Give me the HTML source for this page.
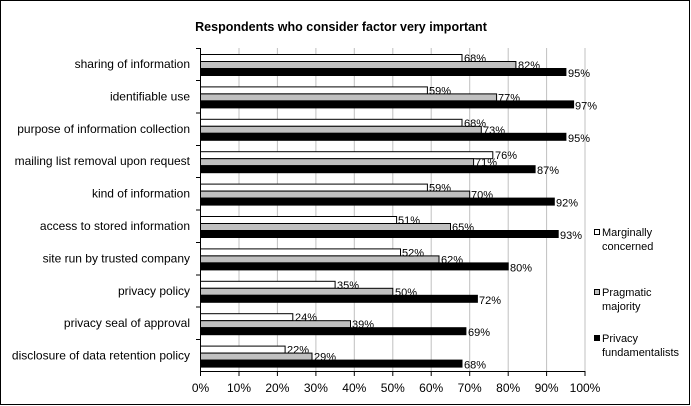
<!DOCTYPE html>
<html><head><meta charset="utf-8"><style>
html,body{margin:0;padding:0;background:#fff}
svg{display:block;font-family:"Liberation Sans",Arial,sans-serif}
</style></head><body>
<svg width="691" height="406" viewBox="0 0 691 406" xmlns="http://www.w3.org/2000/svg">
<rect x="0.5" y="0.5" width="689" height="404" fill="#fff" stroke="#000"/>
<text x="341" y="31" font-size="12.5" font-weight="bold" text-anchor="middle">Respondents who consider factor very important</text>
<g stroke="#c0c0c0" stroke-width="1">
<line x1="239" y1="48" x2="239" y2="372"/><line x1="277.4" y1="48" x2="277.4" y2="372"/><line x1="315.9" y1="48" x2="315.9" y2="372"/><line x1="354.3" y1="48" x2="354.3" y2="372"/><line x1="392.8" y1="48" x2="392.8" y2="372"/><line x1="431.2" y1="48" x2="431.2" y2="372"/><line x1="469.7" y1="48" x2="469.7" y2="372"/><line x1="508.2" y1="48" x2="508.2" y2="372"/><line x1="546.6" y1="48" x2="546.6" y2="372"/><line x1="585" y1="48" x2="585" y2="372"/>
</g>
<g stroke="#000" stroke-width="1">
<line x1="200.5" y1="48" x2="200.5" y2="372"/><line x1="200" y1="371.5" x2="585.5" y2="371.5"/>
<line x1="196" y1="48.5" x2="200" y2="48.5"/><line x1="196" y1="80.5" x2="200" y2="80.5"/><line x1="196" y1="113" x2="200" y2="113"/><line x1="196" y1="145.5" x2="200" y2="145.5"/><line x1="196" y1="177.5" x2="200" y2="177.5"/><line x1="196" y1="210" x2="200" y2="210"/><line x1="196" y1="242.5" x2="200" y2="242.5"/><line x1="196" y1="275" x2="200" y2="275"/><line x1="196" y1="307" x2="200" y2="307"/><line x1="196" y1="339.5" x2="200" y2="339.5"/>
<line x1="200.5" y1="372" x2="200.5" y2="376"/><line x1="239" y1="372" x2="239" y2="376"/><line x1="277.4" y1="372" x2="277.4" y2="376"/><line x1="315.9" y1="372" x2="315.9" y2="376"/><line x1="354.3" y1="372" x2="354.3" y2="376"/><line x1="392.8" y1="372" x2="392.8" y2="376"/><line x1="431.2" y1="372" x2="431.2" y2="376"/><line x1="469.7" y1="372" x2="469.7" y2="376"/><line x1="508.2" y1="372" x2="508.2" y2="376"/><line x1="546.6" y1="372" x2="546.6" y2="376"/><line x1="585" y1="372" x2="585" y2="376"/>
</g>
<g font-size="12" text-anchor="middle">
<text x="200.5" y="392">0%</text><text x="239" y="392">10%</text><text x="277.4" y="392">20%</text><text x="315.9" y="392">30%</text><text x="354.3" y="392">40%</text><text x="392.8" y="392">50%</text><text x="431.2" y="392">60%</text><text x="469.7" y="392">70%</text><text x="508.2" y="392">80%</text><text x="546.6" y="392">90%</text><text x="585" y="392">100%</text>
</g>
<g font-size="12" text-anchor="end">
<text x="190" y="68">sharing of information</text>
<text x="190" y="100.4">identifiable use</text>
<text x="190" y="132.8">purpose of information collection</text>
<text x="190" y="165.2">mailing list removal upon request</text>
<text x="190" y="197.6">kind of information</text>
<text x="190" y="230">access to stored information</text>
<text x="190" y="262.4">site run by trusted company</text>
<text x="190" y="294.8">privacy policy</text>
<text x="190" y="327.2">privacy seal of approval</text>
<text x="190" y="359.6">disclosure of data retention policy</text>
</g>
<g stroke="#000" stroke-width="1" font-size="11">
<g transform="translate(0,48)"><rect x="200.5" y="6.5" width="261.5" height="7" fill="#fff"/><rect x="200.5" y="13.5" width="315.4" height="7" fill="#c0c0c0"/><rect x="200.5" y="20.5" width="365.4" height="7" fill="#000"/><g stroke="none"><text x="464" y="14">68%</text><text x="518" y="21">82%</text><text x="568" y="29">95%</text></g></g>
<g transform="translate(0,80.4)"><rect x="200.5" y="6.5" width="226.9" height="7" fill="#fff"/><rect x="200.5" y="13.5" width="296.1" height="7" fill="#c0c0c0"/><rect x="200.5" y="20.5" width="373.1" height="7" fill="#000"/><g stroke="none"><text x="429" y="14">59%</text><text x="498" y="21">77%</text><text x="575" y="29">97%</text></g></g>
<g transform="translate(0,112.8)"><rect x="200.5" y="6.5" width="261.5" height="7" fill="#fff"/><rect x="200.5" y="13.5" width="280.8" height="7" fill="#c0c0c0"/><rect x="200.5" y="20.5" width="365.4" height="7" fill="#000"/><g stroke="none"><text x="464" y="14">68%</text><text x="483" y="21">73%</text><text x="568" y="29">95%</text></g></g>
<g transform="translate(0,145.2)"><rect x="200.5" y="6.5" width="292.3" height="7" fill="#fff"/><rect x="200.5" y="13.5" width="273.1" height="7" fill="#c0c0c0"/><rect x="200.5" y="20.5" width="334.6" height="7" fill="#000"/><g stroke="none"><text x="495" y="14">76%</text><text x="475" y="21">71%</text><text x="537" y="29">87%</text></g></g>
<g transform="translate(0,177.6)"><rect x="200.5" y="6.5" width="226.9" height="7" fill="#fff"/><rect x="200.5" y="13.5" width="269.2" height="7" fill="#c0c0c0"/><rect x="200.5" y="20.5" width="353.8" height="7" fill="#000"/><g stroke="none"><text x="429" y="14">59%</text><text x="471" y="21">70%</text><text x="556" y="29">92%</text></g></g>
<g transform="translate(0,210)"><rect x="200.5" y="6.5" width="196.1" height="7" fill="#fff"/><rect x="200.5" y="13.5" width="250" height="7" fill="#c0c0c0"/><rect x="200.5" y="20.5" width="357.7" height="7" fill="#000"/><g stroke="none"><text x="398" y="14">51%</text><text x="452" y="21">65%</text><text x="560" y="29">93%</text></g></g>
<g transform="translate(0,242.4)"><rect x="200.5" y="6.5" width="200" height="7" fill="#fff"/><rect x="200.5" y="13.5" width="238.5" height="7" fill="#c0c0c0"/><rect x="200.5" y="20.5" width="307.7" height="7" fill="#000"/><g stroke="none"><text x="402" y="14">52%</text><text x="441" y="21">62%</text><text x="510" y="29">80%</text></g></g>
<g transform="translate(0,274.8)"><rect x="200.5" y="6.5" width="134.6" height="7" fill="#fff"/><rect x="200.5" y="13.5" width="192.3" height="7" fill="#c0c0c0"/><rect x="200.5" y="20.5" width="276.9" height="7" fill="#000"/><g stroke="none"><text x="337" y="14">35%</text><text x="395" y="21">50%</text><text x="479" y="29">72%</text></g></g>
<g transform="translate(0,307.2)"><rect x="200.5" y="6.5" width="92.3" height="7" fill="#fff"/><rect x="200.5" y="13.5" width="150" height="7" fill="#c0c0c0"/><rect x="200.5" y="20.5" width="265.4" height="7" fill="#000"/><g stroke="none"><text x="295" y="14">24%</text><text x="352" y="21">39%</text><text x="468" y="29">69%</text></g></g>
<g transform="translate(0,339.6)"><rect x="200.5" y="6.5" width="84.6" height="7" fill="#fff"/><rect x="200.5" y="13.5" width="111.5" height="7" fill="#c0c0c0"/><rect x="200.5" y="20.5" width="261.5" height="7" fill="#000"/><g stroke="none"><text x="287" y="14">22%</text><text x="314" y="21">29%</text><text x="464" y="29">68%</text></g></g>
</g>
<g font-size="11">
<rect x="594.5" y="229.5" width="5" height="5" fill="#fff" stroke="#000"/>
<text x="602" y="236">Marginally</text><text x="602" y="250">concerned</text>
<rect x="594.5" y="289.5" width="5" height="5" fill="#c0c0c0" stroke="#000"/>
<text x="602" y="296">Pragmatic</text><text x="602" y="310">majority</text>
<rect x="594.5" y="335.5" width="5" height="5" fill="#000" stroke="#000"/>
<text x="602" y="342">Privacy</text><text x="602" y="356">fundamentalists</text>
</g>
</svg>
</body></html>
